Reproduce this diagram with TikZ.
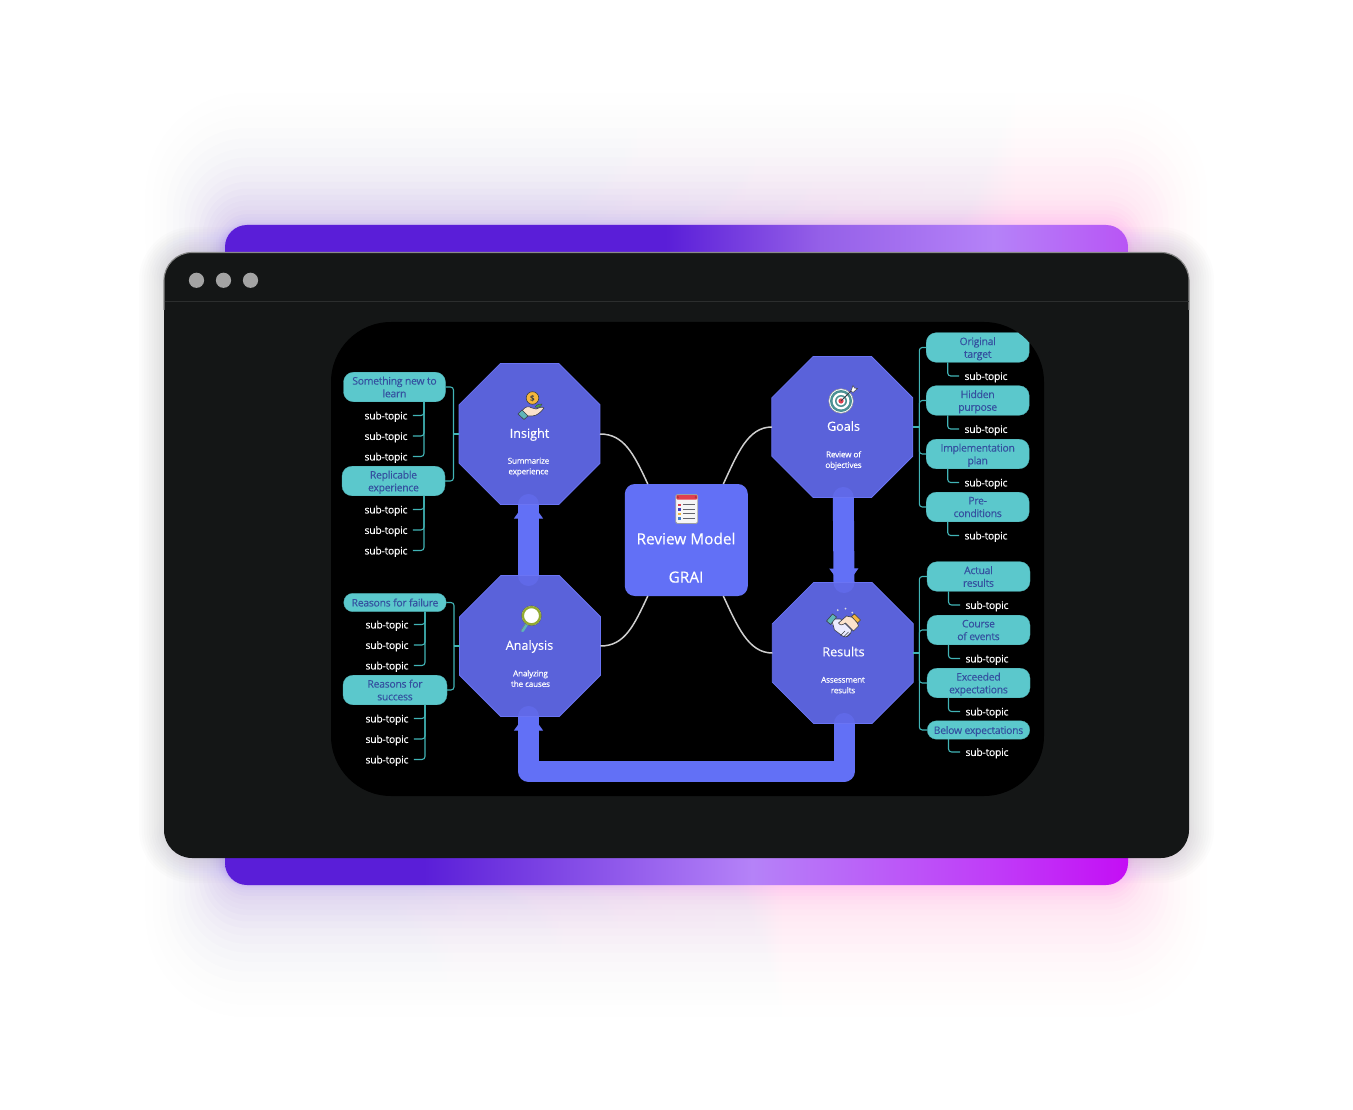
\documentclass[tikz,border=0pt]{standalone}
\usepackage{xcolor}
\usepackage{fontspec}
\setmainfont{Open Sans}
\usetikzlibrary{arrows.meta,positioning,shapes.geometric,calc}
\definecolor{ChromeDark}{HTML}{141616}
\definecolor{ChromeLine}{HTML}{2C2E2E}
\definecolor{ChromeDot}{HTML}{A3A3A3}
\definecolor{GraiBlue}{HTML}{6270F6}
\definecolor{OctaBlue}{HTML}{6069E8}
\definecolor{OctaEdge}{HTML}{6A74F4}
\definecolor{TopicTeal}{HTML}{5BC8CC}
\definecolor{TopicInk}{HTML}{34509F}
\definecolor{BranchTeal}{HTML}{41B4B6}
\definecolor{CurveGrey}{HTML}{CFCFCF}
\definecolor{IconInk}{HTML}{3C3F48}
\definecolor{IconSkin}{HTML}{FBE2CC}
\definecolor{IconGold}{HTML}{F6B73C}
\definecolor{IconCuff}{HTML}{5FB5B8}
\definecolor{IconRed}{HTML}{E0404E}
\definecolor{BarViolet}{HTML}{5A1ED8}
\definecolor{BarMauve}{HTML}{9560E8}
\definecolor{BarLilac}{HTML}{B582F8}
\definecolor{BarOrchid}{HTML}{B855F5}
\definecolor{BarPink}{HTML}{C03CF8}
\definecolor{BarMagenta}{HTML}{C40EF5}
\definecolor{GlowViolet}{HTML}{6A34F0}
\definecolor{GlowPink}{HTML}{FF50F0}
\pgfdeclarehorizontalshading{barTopShade}{100bp}{color(0bp)=(BarViolet); color(49.4bp)=(BarViolet); color(58bp)=(BarMauve); color(67.6bp)=(BarLilac); color(75bp)=(BarOrchid); color(100bp)=(BarOrchid)}
\pgfdeclarehorizontalshading{barBottomShade}{100bp}{color(0bp)=(BarViolet); color(36bp)=(BarViolet); color(54.2bp)=(BarLilac); color(67.6bp)=(BarPink); color(75bp)=(BarMagenta); color(100bp)=(BarMagenta)}
\pgfdeclarehorizontalshading{glowTopShade}{100bp}{color(0bp)=(GlowViolet); color(45bp)=(GlowViolet); color(66bp)=(GlowPink); color(100bp)=(GlowPink)}
\pgfdeclarehorizontalshading{glowBottomShade}{100bp}{color(0bp)=(GlowViolet); color(36bp)=(GlowViolet); color(55bp)=(GlowPink); color(100bp)=(GlowPink)}
\pgfdeclarelayer{chrome}
\pgfdeclarelayer{flows}
\pgfsetlayers{chrome,flows,main}
\tikzset{
  handicon/.pic={
    \draw[IconInk, fill=IconGold, line width=0.6pt] (0.5,-7) circle (6.3);
    \node[text=IconInk, font=\fontsize{8}{8}\selectfont\bfseries] (coinmark) at (0.5,-6.5) {\$};
    \draw[IconInk, fill=green!45!black!70, line width=0.3pt] (3,2) .. controls (5,-1) and (8,-1) .. (10,-1) .. controls (9,2) and (6,3) .. (3,2) -- cycle;
    \draw[IconInk, fill=IconSkin, line width=0.6pt] (-10,6) .. controls (-7,1) and (-3,1) .. (0,3) -- (4,4) .. controls (7,3) and (10,1) .. (12,3) .. controls (9,7) and (5,11) .. (0,11) -- (-5,11) -- cycle;
    \draw[IconInk, fill=IconCuff, line width=0.6pt] (-14,9) -- (-10,5) -- (-4,11) -- (-8,14.5) -- cycle;
  },
  targeticon/.pic={
    \draw[IconInk!60, fill=white, line width=0.5pt] (0,0) circle (12.3);
    \fill[IconCuff!80!black] (0,0) circle (11);
    \fill[white] (0,0) circle (8.4);
    \fill[IconCuff!80!black] (0,0) circle (6);
    \fill[white] (0,0) circle (4.4);
    \fill[IconRed] (0,0) circle (2.6);
    \draw[IconInk, line width=0.8pt] (0,0) -- (11,-11);
    \draw[IconInk, fill=white, line width=0.5pt] (10,-10) -- (12,-15.5) -- (13.5,-13) -- (16.5,-12.5) -- (12,-8.5) -- cycle;
  },
  lensicon/.pic={
    \draw[IconCuff, line width=3pt, line cap=round] (-3.5,6.5) -- (-9,15);
    \draw[IconInk!70, line width=0.5pt] (-6,8) -- (-11,15.5);
    \draw[IconInk, fill=white, line width=0.4pt] (0,0) circle (10);
    \draw[olive!70!green!80!white, line width=2.2pt] (0,0) circle (8.6);
  },
  shakeicon/.pic={
    \foreach \a in {0,40,...,320} {\fill[white!75!gray] ($(0,-6)+(\a:11.5)$) circle (1);}
    \draw[IconInk, fill=white!92!blue, line width=0.6pt] (-12,-7) -- (-3,-7) -- (8,4) .. controls (8,8) and (3,13) .. (-1,10) -- (-9,4) -- cycle;
    \draw[IconInk, fill=IconSkin, line width=0.6pt] (12,-8) -- (3,-10) -- (-5,-3) .. controls (-3,0) and (-1,-1) .. (2,-3) -- (10,5) -- (15,0) -- cycle;
    \draw[IconInk, fill=IconCuff, line width=0.6pt] (-17,-5) -- (-11,-12) -- (-7,-9) -- (-13,-1.5) -- cycle;
    \draw[IconInk, fill=IconGold, line width=0.6pt] (17,-6) -- (11,-12) -- (8,-9.5) -- (14,-3) -- cycle;
    \draw[IconInk, line width=0.6pt] (-3,9.5) -- (1.5,5) (0,11) -- (5,6) (3,11) -- (7,7);
  },
  listicon/.pic={
    \draw[IconInk!50, fill=white!93!gray, rounded corners=1.5pt, line width=0.8pt] (-11,-14.5) rectangle (11,14.5);
    \fill[IconRed, rounded corners=1pt] (-10.5,-14) rectangle (10.5,-9.5);
    \fill[IconRed!80!black] (-9,-11.8) circle (1.3) (9,-11.8) circle (1.3);
    \fill[IconRed] (-8.5,-5.5) rectangle (-5.5,-3);
    \fill[blue!50!gray] (-8.5,-1) rectangle (-5.5,1.5);
    \fill[IconGold] (-8.5,3.5) rectangle (-5.5,6);
    \fill[IconCuff!70!blue] (-8.5,8) rectangle (-5.5,10.5);
    \draw[IconInk!80, line width=0.8pt] (-4,-4.2) -- (8,-4.2) (-4,0.2) -- (8,0.2) (-4,4.8) -- (8,4.8) (-4,9.2) -- (8,9.2);
  }
}
\begin{document}
\begin{tikzpicture}[x=1pt, y=-1pt, on grid,
  every node/.style={inner sep=0pt, outer sep=0pt, text depth=0pt},
  octagon/.style={regular polygon, regular polygon sides=8, minimum size=152.6pt, fill=OctaBlue, fill opacity=0.94, draw=OctaEdge, line width=0.8pt},
  review/.style={rounded corners=10pt, fill=GraiBlue, minimum width=123pt, minimum height=112pt},
  topic/.style={rounded corners=10pt, fill=TopicTeal, draw=TopicTeal!85!black, line width=0.3pt, minimum width=103pt, minimum height=29.6pt, align=center, text=TopicInk, font=\fontsize{10.4}{12.7}\selectfont\addfontfeatures{LetterSpace=-2.5, FakeBold=0.12}},
  topicslim/.style={topic, rounded corners=9pt, minimum height=18.4pt},
  subtopic/.style={inner xsep=5.5pt, text=white, font=\fontsize{10.4}{12}\selectfont\addfontfeatures{LetterSpace=-2.5, FakeBold=0.08}},
  title/.style={text=white, font=\fontsize{12.6}{15}\selectfont\addfontfeatures{FakeBold=0.3}},
  caption/.style={text=white, align=center, font=\fontsize{8.2}{10.6}\selectfont\addfontfeatures{LetterSpace=-2.5, FakeBold=0.25}},
  maintext/.style={text=white, font=\fontsize{15.4}{18}\selectfont\addfontfeatures{FakeBold=0.3}},
  branch/.style={rounded corners=3pt, line width=1.1pt, color=BranchTeal},
  curve/.style={line width=1.5pt, color=CurveGrey},
  flow/.style={line width=21pt, color=GraiBlue, line cap=round, line join=round},
  flowhead/.style={line width=1pt, color=GraiBlue, -{Triangle[length=20pt, width=29pt]}}]
\begin{pgfonlayer}{chrome}
\fill[white] (0,0) rectangle (1353,1110);
\foreach \g in {1,...,10} {
  \pgfmathsetmacro{\spread}{\g*2.5}
  \fill[black, fill opacity=0.012, rounded corners={28pt+\spread pt}] (164-\spread,252-\spread) rectangle (1189+\spread,858+\spread);
}
\foreach \g in {1,...,22} {
  \pgfmathsetmacro{\spread}{\g*\g*0.3}
  \pgfmathsetmacro{\side}{\spread*0.6}
  \pgfmathsetmacro{\veil}{0.03*(1-\g/23)}
  \shade[shading=glowTopShade, fill opacity=\veil, rounded corners={22pt+\side pt}] (225-\side,225-\spread) rectangle (1128+\side,340);
  \shade[shading=glowBottomShade, fill opacity=\veil, rounded corners={22pt+\side pt}] (225-\side,770) rectangle (1128+\side,885+\spread);
}
\shade[shading=barTopShade, rounded corners=22pt] (225,225) rectangle (1128,300);
\shade[shading=barBottomShade, rounded corners=22pt] (225,800) rectangle (1128,885);
\fill[ChromeDark, rounded corners=28pt] (164,252.5) rectangle (1189,858);
\draw[ChromeDot!85!black, rounded corners=28pt, line width=1.1pt] (164,310) -- (164,252.5) -- (1189,252.5) -- (1189,310);
\draw[ChromeLine, line width=1pt] (164.5,302) -- (1188.5,302);
\fill[ChromeDot] (196.5,280.3) circle (7.6) (223.5,280.3) circle (7.6) (250.5,280.3) circle (7.6);
\fill[black, rounded corners=60pt] (331,322) rectangle (1044,796);
\end{pgfonlayer}
\clip[rounded corners=60pt] (331,322) rectangle (1044,796);
\node[review] (grai) at (686.3,540) {};
\node[octagon] (insight) at (529.5,434) {};
\node[octagon] (analysis) at (530,646) {};
\node[octagon] (goals) at (842.3,427) {};
\node[octagon] (results) at (842.8,653) {};
\pic at (686.8,509) {listicon};
\node[maintext] (gtitle) at (686,538.5) {Review Model};
\node[maintext] (gname) at (686,577) {GRAI};
\pic at (532,405) {handicon};
\node[title] (ititle) at (529.5,433) {Insight};
\node[caption] (icap) at (528.5,466) {Summarize\\experience};
\pic at (841,401) {targeticon};
\node[title] (otitle) at (843.5,426) {Goals};
\node[caption] (ocap) at (843.5,459.5) {Review of\\objectives};
\pic at (531.5,615.7) {lensicon};
\node[title] (atitle) at (529.5,645) {Analysis};
\node[caption] (acap) at (530.5,678.5) {Analyzing\\the causes};
\pic at (843.5,626) {shakeicon};
\node[title] (rtitle) at (843.5,651.5) {Results};
\node[caption] (rcap) at (843,685) {Assessment\\results};
\begin{pgfonlayer}{flows}
\draw[flow] ([xshift=-1.5pt]analysis.north) -- ([xshift=-1pt]insight.south);
\draw[flowhead] ([xshift=-1.5pt]analysis.north) -- ([xshift=-1pt, yshift=6pt]insight.south);
\draw[flow] ([xshift=1pt]goals.south) -- ([xshift=1.2pt]results.north);
\draw[flowhead] ([xshift=1pt]goals.south) -- ([xshift=1.2pt, yshift=-6pt]results.north);
\draw[flow] ([xshift=1.2pt]results.south) -- ++(0,48) -| ([xshift=-1.5pt]analysis.south);
\draw[flowhead] ([xshift=-1.5pt, yshift=-30pt]analysis.south) -- ([xshift=-1.5pt, yshift=6pt]analysis.south);
\end{pgfonlayer}
\draw[curve] (insight.east) .. controls +(24,0) and +(-14,-30) .. ([xshift=23pt]grai.north west);
\draw[curve] (analysis.east) .. controls +(24,0) and +(-14,30) .. ([xshift=23pt]grai.south west);
\draw[curve] (goals.west) .. controls +(-24,0) and +(14,-30) .. ([xshift=-24.5pt]grai.north east);
\draw[curve] (results.west) .. controls +(-24,0) and +(14,30) .. ([xshift=-24.5pt]grai.south east);
\node[topic, minimum width=102pt] (i1) at (394.5,387) {Something new to\\learn};
\node[subtopic, below left=28.5pt and 8.5pt of i1] (i1a) {sub-topic};
\node[subtopic, below=20.5pt of i1a] (i1b) {sub-topic};
\node[subtopic, below=20.5pt of i1b] (i1c) {sub-topic};
\node[topic] (i2) at (393.5,481) {Replicable\\experience};
\node[subtopic, below left=28.5pt and 7.5pt of i2] (i2a) {sub-topic};
\node[subtopic, below=20.5pt of i2a] (i2b) {sub-topic};
\node[subtopic, below=20.5pt of i2b] (i2c) {sub-topic};
\node[topicslim, minimum width=102.5pt] (a1) at (395,602.5) {Reasons for failure};
\node[subtopic, below left=22pt and 8pt of a1] (a1a) {sub-topic};
\node[subtopic, below=20.5pt of a1a] (a1b) {sub-topic};
\node[subtopic, below=20.5pt of a1b] (a1c) {sub-topic};
\node[topic, minimum width=104pt] (a2) at (395,690) {Reasons for\\success};
\node[subtopic, below left=28.5pt and 8pt of a2] (a2a) {sub-topic};
\node[subtopic, below=20.5pt of a2a] (a2b) {sub-topic};
\node[subtopic, below=20.5pt of a2b] (a2c) {sub-topic};
\node[topic] (o1) at (977.7,347.5) {Original\\target};
\node[subtopic, below right=28.5pt and 8.3pt of o1] (o1a) {sub-topic};
\node[topic, below=53pt of o1] (o2) {Hidden\\purpose};
\node[subtopic, below right=28.5pt and 8.3pt of o2] (o2a) {sub-topic};
\node[topic, below=53.5pt of o2] (o3) {Implementation\\plan};
\node[subtopic, below right=28.5pt and 8.3pt of o3] (o3a) {sub-topic};
\node[topic, below=53pt of o3] (o4) {Pre-\\conditions};
\node[subtopic, below right=28.5pt and 8.3pt of o4] (o4a) {sub-topic};
\node[topic] (r1) at (978.5,576.5) {Actual\\results};
\node[subtopic, below right=28.5pt and 8.5pt of r1] (r1a) {sub-topic};
\node[topic, below=53.5pt of r1] (r2) {Course\\of events};
\node[subtopic, below right=28.5pt and 8.5pt of r2] (r2a) {sub-topic};
\node[topic, below=53pt of r2] (r3) {Exceeded\\expectations};
\node[subtopic, below right=28.5pt and 8.5pt of r3] (r3a) {sub-topic};
\node[topicslim, minimum width=102.5pt] (r4) at (978.5,730) {Below expectations};
\node[subtopic, below right=22pt and 8.5pt of r4] (r4a) {sub-topic};
\coordinate[left=5.5pt of insight.west] (insightbus);
\coordinate[left=5.5pt of analysis.west] (analysisbus);
\coordinate[right=6.5pt of goals.east] (goalsbus);
\coordinate[right=6pt of results.east] (resultsbus);
\draw[branch] (insight.west) -- (insightbus);
\draw[branch] (i1.east) -| (insightbus) |- (i2.east);
\draw[branch] ([xshift=29.5pt]i1.south) |- (i1a.east);
\draw[branch] ([xshift=29.5pt]i1.south) |- (i1b.east);
\draw[branch] ([xshift=29.5pt]i1.south) |- (i1c.east);
\draw[branch] ([xshift=30.5pt]i2.south) |- (i2a.east);
\draw[branch] ([xshift=30.5pt]i2.south) |- (i2b.east);
\draw[branch] ([xshift=30.5pt]i2.south) |- (i2c.east);
\draw[branch] (analysis.west) -- (analysisbus);
\draw[branch] (a1.east) -| (analysisbus) |- (a2.east);
\draw[branch] ([xshift=30pt]a1.south) |- (a1a.east);
\draw[branch] ([xshift=30pt]a1.south) |- (a1b.east);
\draw[branch] ([xshift=30pt]a1.south) |- (a1c.east);
\draw[branch] ([xshift=30pt]a2.south) |- (a2a.east);
\draw[branch] ([xshift=30pt]a2.south) |- (a2b.east);
\draw[branch] ([xshift=30pt]a2.south) |- (a2c.east);
\draw[branch] (goals.east) -- (goalsbus);
\draw[branch] (o1.west) -| (goalsbus) |- (o4.west);
\draw[branch] (o2.west) -| (goalsbus);
\draw[branch] (o3.west) -| (goalsbus);
\draw[branch] ([xshift=-30pt]o1.south) |- (o1a.west);
\draw[branch] ([xshift=-30pt]o2.south) |- (o2a.west);
\draw[branch] ([xshift=-30pt]o3.south) |- (o3a.west);
\draw[branch] ([xshift=-30pt]o4.south) |- (o4a.west);
\draw[branch] (results.east) -- (resultsbus);
\draw[branch] (r1.west) -| (resultsbus) |- (r4.west);
\draw[branch] (r2.west) -| (resultsbus);
\draw[branch] (r3.west) -| (resultsbus);
\draw[branch] ([xshift=-30pt]r1.south) |- (r1a.west);
\draw[branch] ([xshift=-30pt]r2.south) |- (r2a.west);
\draw[branch] ([xshift=-30pt]r3.south) |- (r3a.west);
\draw[branch] ([xshift=-30pt]r4.south) |- (r4a.west);
\end{tikzpicture}
\end{document}
